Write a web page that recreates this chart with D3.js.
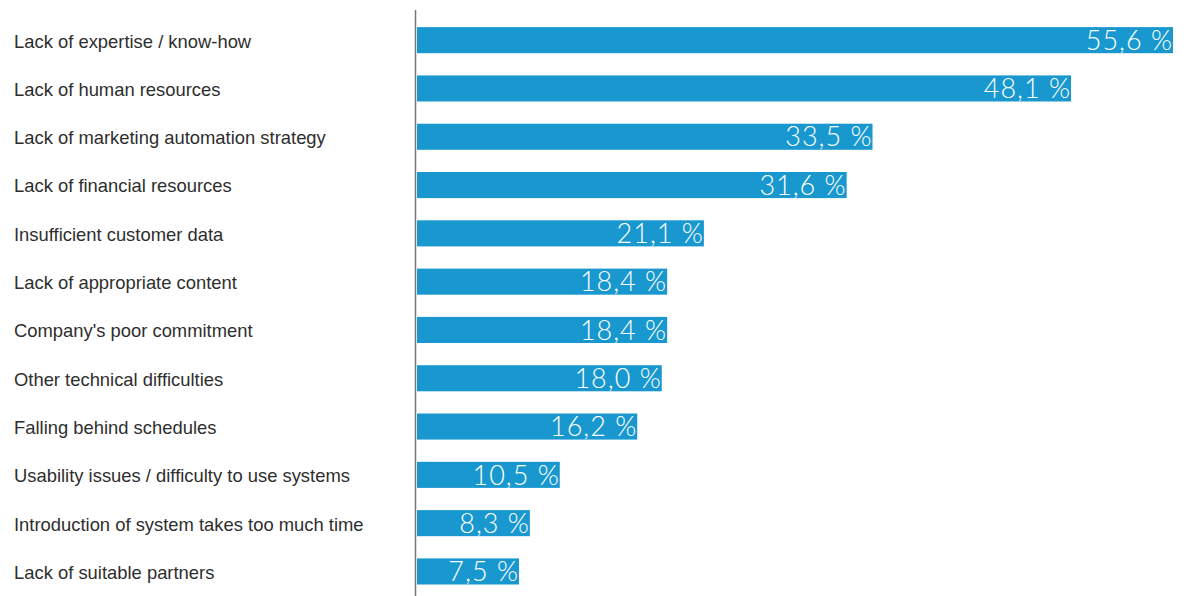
<!DOCTYPE html>
<html lang="en">
<head>
<meta charset="UTF-8">
<title>Marketing automation challenges</title>
<script src="https://d3js.org/d3.v7.min.js"></script>
<style>
  body { margin: 0; background: #fff; }
  .cat { font-family: "Liberation Sans", Arial, sans-serif; font-size: 18.4px; fill: #2e2e2e; }
  .val { font-family: Lato, "Open Sans", sans-serif; font-weight: 300; font-size: 27px; letter-spacing: 1px; fill: #fff; }
</style>
</head>
<body>
<div id="chart"></div>
<script>
const categories = [
  "Lack of expertise / know-how",
  "Lack of human resources",
  "Lack of marketing automation strategy",
  "Lack of financial resources",
  "Insufficient customer data",
  "Lack of appropriate content",
  "Company's poor commitment",
  "Other technical difficulties",
  "Falling behind schedules",
  "Usability issues / difficulty to use systems",
  "Introduction of system takes too much time",
  "Lack of suitable partners"
]
const values = [55.6, 48.1, 33.5, 31.6, 21.1, 18.4, 18.4, 18.0, 16.2, 10.5, 8.3, 7.5]
const labels = ["55,6 %", "48,1 %", "33,5 %", "31,6 %", "21,1 %", "18,4 %", "18,4 %", "18,0 %", "16,2 %", "10,5 %", "8,3 %", "7,5 %"]

const w = 1188, h = 596
const x0 = 417

const data = categories.map((c, i) => ({cat: c, v: values[i], lab: labels[i]}))

const x = d3.scaleLinear()
            .domain([0, 55.6])
            .range([x0, 1173])

const y = d3.scaleBand()
            .domain(categories)
            .range([16, 16 + 48.3 * 12])
            .paddingInner(0.46)
            .paddingOuter(0.23)

const svg = d3.select("#chart")
              .append("svg")
              .attr("width", w)
              .attr("height", h)

svg.selectAll("rect.bar")
   .data(data)
   .enter()
   .append("rect")
   .attr("class", "bar")
   .attr("x", x(0))
   .attr("y", d => y(d.cat))
   .attr("width", d => x(d.v) - x(0))
   .attr("height", y.bandwidth())
   .attr("fill", "#1898cf")

svg.selectAll("text.val")
   .data(data)
   .enter()
   .append("text")
   .attr("class", "val")
   .attr("x", d => x(d.v))
   .attr("y", d => y(d.cat) + y.bandwidth() / 2)
   .attr("dy", "0.36em")
   .attr("text-anchor", "end")
   .text(d => d.lab)

svg.selectAll("text.cat")
   .data(data)
   .enter()
   .append("text")
   .attr("class", "cat")
   .attr("x", 14)
   .attr("y", d => y(d.cat) + y.bandwidth() / 2 + 1)
   .attr("dy", "0.35em")
   .text(d => d.cat)

// vertical axis line
svg.append("line")
   .attr("x1", x0 - 1.5).attr("x2", x0 - 1.5)
   .attr("y1", 10).attr("y2", h)
   .attr("stroke", "#777")
   .attr("stroke-width", 1.5)
</script>
</body>
</html>
